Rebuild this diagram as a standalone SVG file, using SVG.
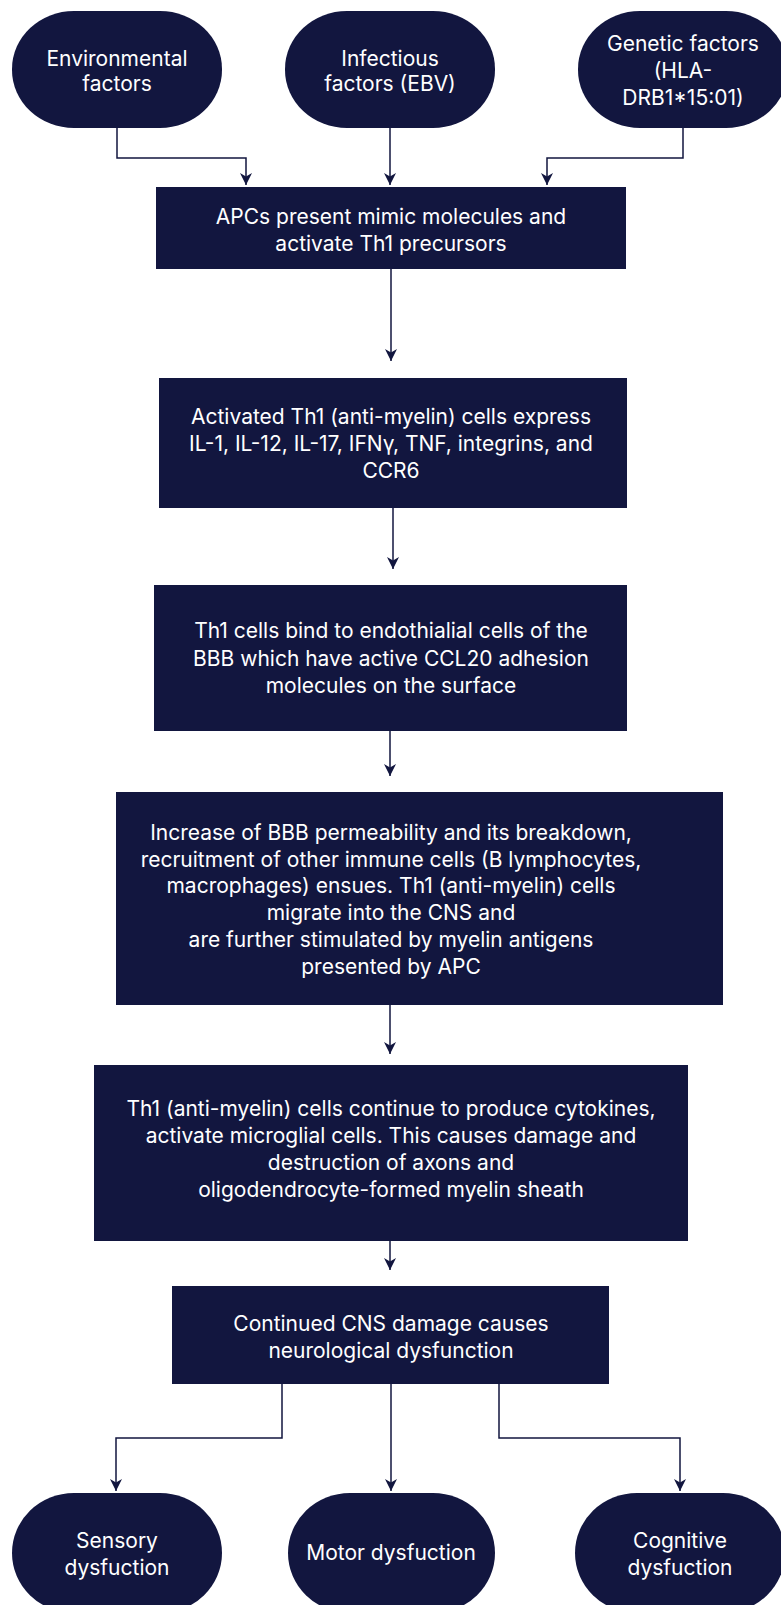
<svg xmlns="http://www.w3.org/2000/svg" width="781" height="1605" viewBox="0 0 781 1605">
<defs>
<style>
.n{fill:#12163f;}
.t{fill:#ffffff;font-family:Inter,"Noto Sans",sans-serif;font-size:21px;text-anchor:middle;}
.c{fill:none;stroke:#12163f;stroke-width:1.5;marker-end:url(#a);}
</style>
<marker id="a" markerUnits="userSpaceOnUse" markerWidth="12" markerHeight="13" refX="12" refY="6" orient="auto" viewBox="0 0 12 12">
<path d="M0,0 L12,6 L0,12 L3.5,6 z" fill="#12163f"/>
</marker>
</defs>
<rect width="781" height="1605" fill="#ffffff"/>
<g id="connectors">
<path class="c" d="M117,128 V158 H246 V185"/>
<path class="c" d="M390,128 V185"/>
<path class="c" d="M683,128 V158 H547 V185"/>
<path class="c" d="M391,269 V361"/>
<path class="c" d="M393,508 V569"/>
<path class="c" d="M390,731 V776"/>
<path class="c" d="M390,1005 V1054"/>
<path class="c" d="M390,1241 V1270"/>
<path class="c" d="M282,1384 V1438 H116 V1491"/>
<path class="c" d="M391,1384 V1491"/>
<path class="c" d="M499,1384 V1438 H680 V1491"/>
</g>
<g id="environmental">
<rect class="n" x="12" y="11" width="210" height="117" rx="62" ry="58"/>
<text class="t" x="117" y="66">Environmental</text>
<text class="t" x="117" y="91">factors</text>
</g>
<g id="infectious">
<rect class="n" x="285" y="11" width="210" height="117" rx="62" ry="58"/>
<text class="t" x="390" y="66">Infectious</text>
<text class="t" x="390" y="91">factors (EBV)</text>
</g>
<g id="genetic">
<rect class="n" x="578" y="11" width="210" height="117" rx="62" ry="58"/>
<text class="t" x="683" y="51">Genetic factors</text>
<text class="t" x="683" y="78">(HLA-</text>
<text class="t" x="683" y="105">DRB1*15:01)</text>
</g>
<g id="apc">
<rect class="n" x="156" y="187" width="470" height="82"/>
<text class="t" x="391" y="224">APCs present mimic molecules and</text>
<text class="t" x="391" y="251">activate Th1 precursors</text>
</g>
<g id="activated">
<rect class="n" x="159" y="378" width="468" height="130"/>
<text class="t" x="391" y="424">Activated Th1 (anti-myelin) cells express</text>
<text class="t" x="391" y="451">IL-1, IL-12, IL-17, IFNγ, TNF, integrins, and</text>
<text class="t" x="391" y="478">CCR6</text>
</g>
<g id="bind">
<rect class="n" x="154" y="585" width="473" height="146"/>
<text class="t" x="391" y="638">Th1 cells bind to endothialial cells of the</text>
<text class="t" x="391" y="666">BBB which have active CCL20 adhesion</text>
<text class="t" x="391" y="693">molecules on the surface</text>
</g>
<g id="increase">
<rect class="n" x="116" y="792" width="607" height="213"/>
<text class="t" x="391" y="840">Increase of BBB permeability and its breakdown,</text>
<text class="t" x="391" y="867">recruitment of other immune cells (B lymphocytes,</text>
<text class="t" x="391" y="893">macrophages) ensues. Th1 (anti-myelin) cells</text>
<text class="t" x="391" y="920">migrate into the CNS and</text>
<text class="t" x="391" y="947">are further stimulated by myelin antigens</text>
<text class="t" x="391" y="974">presented by APC</text>
</g>
<g id="continue">
<rect class="n" x="94" y="1065" width="594" height="176"/>
<text class="t" x="391" y="1116">Th1 (anti-myelin) cells continue to produce cytokines,</text>
<text class="t" x="391" y="1143">activate microglial cells. This causes damage and</text>
<text class="t" x="391" y="1170">destruction of axons and</text>
<text class="t" x="391" y="1197">oligodendrocyte-formed myelin sheath</text>
</g>
<g id="cns">
<rect class="n" x="172" y="1286" width="437" height="98"/>
<text class="t" x="391" y="1331">Continued CNS damage causes</text>
<text class="t" x="391" y="1358">neurological dysfunction</text>
</g>
<g id="sensory">
<rect class="n" x="12" y="1493" width="210" height="120" rx="62" ry="60"/>
<text class="t" x="117" y="1548">Sensory</text>
<text class="t" x="117" y="1575">dysfuction</text>
</g>
<g id="motor">
<rect class="n" x="288" y="1493" width="207" height="120" rx="62" ry="60"/>
<text class="t" x="391" y="1560">Motor dysfuction</text>
</g>
<g id="cognitive">
<rect class="n" x="575" y="1493" width="210" height="120" rx="62" ry="60"/>
<text class="t" x="680" y="1548">Cognitive</text>
<text class="t" x="680" y="1575">dysfuction</text>
</g>
</svg>
